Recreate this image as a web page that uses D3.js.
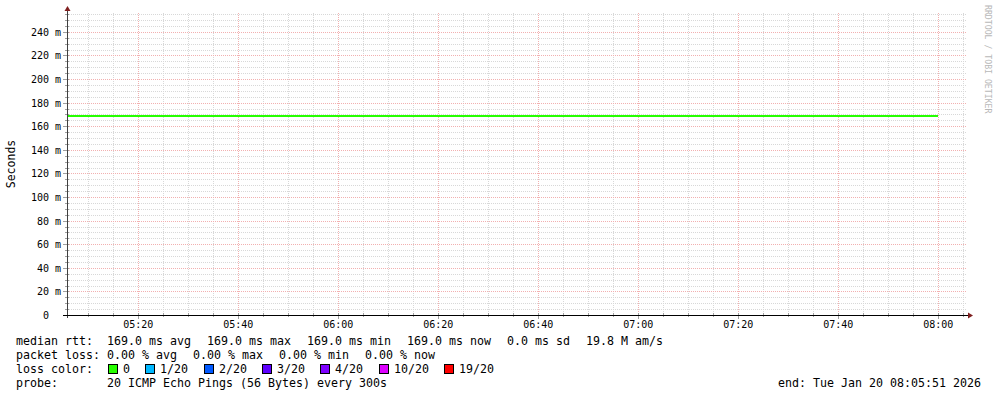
<!DOCTYPE html>
<html lang="en">
<head>
<meta charset="UTF-8">
<title>Smokeping median RTT</title>
<script src="https://d3js.org/d3.v7.min.js"></script>
<style>
    body { margin: 0; background: #fff; }
    text { font-family: "DejaVu Sans Mono", monospace; white-space: pre; }
</style>
</head>
<body>
<div id="chart"></div>
<script>
    const width = 997;
    const height = 397;

    // time window of the graph (UTC used so the browser zone does not matter)
    const startTime = new Date(Date.UTC(2026, 0, 20, 5, 5, 51));
    const endTime = new Date(Date.UTC(2026, 0, 20, 8, 5, 51));

    // 5 minute steps (end of each step), median rtt in seconds, lost pings
    const stepEnds = ["05:10", "05:15", "05:20", "05:25", "05:30", "05:35", "05:40", "05:45", "05:50", "05:55",
        "06:00", "06:05", "06:10", "06:15", "06:20", "06:25", "06:30", "06:35", "06:40", "06:45",
        "06:50", "06:55", "07:00", "07:05", "07:10", "07:15", "07:20", "07:25", "07:30", "07:35",
        "07:40", "07:45", "07:50", "07:55", "08:00"];
    const medianRtt = [0.169, 0.169, 0.169, 0.169, 0.169, 0.169, 0.169, 0.169, 0.169, 0.169,
        0.169, 0.169, 0.169, 0.169, 0.169, 0.169, 0.169, 0.169, 0.169, 0.169,
        0.169, 0.169, 0.169, 0.169, 0.169, 0.169, 0.169, 0.169, 0.169, 0.169,
        0.169, 0.169, 0.169, 0.169, 0.169];
    const lossCount = [0, 0, 0, 0, 0, 0, 0, 0, 0, 0, 0, 0, 0, 0, 0, 0, 0, 0, 0, 0,
        0, 0, 0, 0, 0, 0, 0, 0, 0, 0, 0, 0, 0, 0, 0];

    const yTicks = [0, 0.02, 0.04, 0.06, 0.08, 0.10, 0.12, 0.14, 0.16, 0.18, 0.20, 0.22, 0.24];
    const yTickLabels = ["0  ", "20 m", "40 m", "60 m", "80 m", "100 m", "120 m", "140 m",
        "160 m", "180 m", "200 m", "220 m", "240 m"];

    const lossLabels = ["0", "1/20", "2/20", "3/20", "4/20", "10/20", "19/20"];
    const lossLimits = [0, 1, 2, 3, 4, 10, 19];
    const lossColors = ["#26ff00", "#00b8ff", "#0059ff", "#5e00ff", "#7e00ff", "#dd00ff", "#ff0000"];

    const rttStats = ["169.0 ms avg", "169.0 ms max", "169.0 ms min", "169.0 ms now", "0.0 ms sd", "19.8 M am/s"];
    const lossStats = ["0.00 % avg", "0.00 % max", "0.00 % min", "0.00 % now"];

    const plot = { left: 67, right: 967, top: 13, bottom: 315 };

    const svg = d3.select("#chart")
        .append("svg")
        .attr("width", width)
        .attr("height", height);

    svg.append("rect").attr("width", width).attr("height", height).attr("fill", "#fff");

    const x = d3.scaleUtc().domain([startTime, endTime]).range([plot.left, plot.right]);
    const y = d3.scaleLinear().domain([0, 0.256]).range([plot.bottom, plot.top]);

    // grid
    const minorX = d3.utcMinute.every(5).range(startTime, endTime);
    const majorX = d3.utcMinute.every(20).range(startTime, endTime);
    const minorY = d3.range(0, 0.2561, 0.005);
    const minorColor = "#d8d8d8";
    const majorColor = "#f2b0b0";

    const grid = svg.append("g").attr("shape-rendering", "crispEdges");
    grid.selectAll(".vminor")
        .data(minorX.filter(d => d.getUTCMinutes() % 20 !== 0))
        .join("line")
        .attr("x1", d => Math.round(x(d)) + 0.5).attr("x2", d => Math.round(x(d)) + 0.5)
        .attr("y1", plot.top).attr("y2", plot.bottom)
        .attr("stroke", minorColor).attr("stroke-dasharray", "1,1");
    grid.selectAll(".hminor")
        .data(minorY.filter((d, i) => i % 4 !== 0))
        .join("line")
        .attr("x1", plot.left).attr("x2", plot.right)
        .attr("y1", d => Math.round(y(d)) + 0.5).attr("y2", d => Math.round(y(d)) + 0.5)
        .attr("stroke", minorColor).attr("stroke-dasharray", "1,1");
    grid.selectAll(".vmajor")
        .data(majorX)
        .join("line")
        .attr("x1", d => Math.round(x(d)) + 0.5).attr("x2", d => Math.round(x(d)) + 0.5)
        .attr("y1", plot.top).attr("y2", plot.bottom)
        .attr("stroke", majorColor).attr("stroke-dasharray", "1,1");
    grid.selectAll(".hmajor")
        .data(yTicks.slice(1))
        .join("line")
        .attr("x1", plot.left).attr("x2", plot.right)
        .attr("y1", d => Math.round(y(d)) + 0.5).attr("y2", d => Math.round(y(d)) + 0.5)
        .attr("stroke", majorColor).attr("stroke-dasharray", "1,1");

    // small ticks on the axes
    grid.selectAll(".xtick")
        .data(minorX)
        .join("line")
        .attr("x1", d => Math.round(x(d)) + 0.5).attr("x2", d => Math.round(x(d)) + 0.5)
        .attr("y1", plot.bottom - 2).attr("y2", d => plot.bottom + (d.getUTCMinutes() % 20 === 0 ? 4 : 2))
        .attr("stroke", "#a0a0a0");
    grid.selectAll(".ytick")
        .data(minorY)
        .join("line")
        .attr("x1", (d, i) => plot.left - (i % 4 === 0 ? 4 : 2)).attr("x2", plot.left + 2)
        .attr("y1", d => Math.round(y(d)) + 0.5).attr("y2", d => Math.round(y(d)) + 0.5)
        .attr("stroke", "#a0a0a0");

    // median rtt line, coloured by loss
    const parseStep = d3.utcParse("%Y-%m-%d %H:%M");
    const steps = stepEnds.map((t, i) => {
        const end = parseStep("2026-01-20 " + t);
        const begin = new Date(Math.max(+startTime, +end - 300000));
        const lossIdx = d3.bisectRight(lossLimits, lossCount[i]) - 1;
        return { begin, end, value: medianRtt[i], color: lossColors[lossIdx] };
    });
    svg.append("g")
        .attr("shape-rendering", "crispEdges")
        .selectAll("line")
        .data(steps)
        .join("line")
        .attr("x1", d => x(d.begin)).attr("x2", d => x(d.end))
        .attr("y1", d => Math.round(y(d.value))).attr("y2", d => Math.round(y(d.value)))
        .attr("stroke", d => d.color)
        .attr("stroke-width", 2);

    // axes with arrows
    const axes = svg.append("g").attr("shape-rendering", "crispEdges");
    axes.append("line")
        .attr("x1", plot.left + 0.5).attr("x2", plot.left + 0.5)
        .attr("y1", plot.bottom + 3).attr("y2", plot.top - 3)
        .attr("stroke", "#404040");
    axes.append("line")
        .attr("x1", plot.left - 4).attr("x2", plot.right + 2)
        .attr("y1", plot.bottom + 0.5).attr("y2", plot.bottom + 0.5)
        .attr("stroke", "#000");
    svg.append("path")
        .attr("d", `M${plot.left - 2.5},${plot.top - 2} L${plot.left + 3.5},${plot.top - 2} L${plot.left + 0.5},${plot.top - 7} Z`)
        .attr("fill", "#7f1f1f");
    svg.append("path")
        .attr("d", `M${plot.right + 1},${plot.bottom - 2.5} L${plot.right + 1},${plot.bottom + 3.5} L${plot.right + 6},${plot.bottom + 0.5} Z`)
        .attr("fill", "#7f1f1f");

    // tick labels
    svg.append("g")
        .selectAll("text")
        .data(yTicks)
        .join("text")
        .attr("x", 61)
        .attr("y", d => Math.round(y(d)) + 4)
        .attr("text-anchor", "end")
        .attr("font-size", "10px")
        .attr("fill", "#000")
        .text((d, i) => yTickLabels[i]);

    const fmt = d3.utcFormat("%H:%M");
    svg.append("g")
        .selectAll("text")
        .data(majorX)
        .join("text")
        .attr("x", d => x(d) + 0.5)
        .attr("y", 328)
        .attr("text-anchor", "middle")
        .attr("font-size", "10px")
        .attr("fill", "#000")
        .text(d => fmt(d));

    // axis title and watermark
    svg.append("text")
        .attr("transform", "translate(15,164) rotate(-90)")
        .attr("text-anchor", "middle")
        .attr("font-size", "11.5px")
        .attr("fill", "#000")
        .text("Seconds");
    svg.append("text")
        .attr("transform", "translate(985,5) rotate(90)")
        .attr("font-size", "8.2px")
        .attr("fill", "#b8b8b8")
        .text("RRDTOOL / TOBI OETIKER");

    // legend
    const legend = svg.append("g").attr("font-size", "11.63px").attr("fill", "#000");
    const cw = 7;
    legend.append("text").attr("x", 16).attr("y", 345).text("median rtt:");
    legend.selectAll(".rtt")
        .data(rttStats)
        .join("text")
        .attr("x", (d, i) => 107 + d3.sum(rttStats.slice(0, i), s => s.length * cw + 16))
        .attr("y", 345)
        .text(d => d);
    legend.append("text").attr("x", 16).attr("y", 359).text("packet loss:");
    legend.selectAll(".loss")
        .data(lossStats)
        .join("text")
        .attr("x", (d, i) => 107 + d3.sum(lossStats.slice(0, i), s => s.length * cw + 16))
        .attr("y", 359)
        .text(d => d);
    legend.append("text").attr("x", 16).attr("y", 373).text("loss color:");
    const boxX = lossLabels.map((l, i) => 108 + d3.sum(lossLabels.slice(0, i), s => 15 + s.length * cw + 15.3));
    legend.selectAll(".box")
        .data(lossLabels)
        .join("rect")
        .attr("x", (d, i) => Math.round(boxX[i]) + 0.5)
        .attr("y", 364.5)
        .attr("width", 9).attr("height", 9)
        .attr("fill", (d, i) => lossColors[i])
        .attr("stroke", "#000");
    legend.selectAll(".boxlabel")
        .data(lossLabels)
        .join("text")
        .attr("x", (d, i) => Math.round(boxX[i]) + 15)
        .attr("y", 373)
        .text(d => d);
    legend.append("text").attr("x", 16).attr("y", 387).text("probe:");
    legend.append("text").attr("x", 107).attr("y", 387).text("20 ICMP Echo Pings (56 Bytes) every 300s");
    legend.append("text").attr("x", 981).attr("y", 387).attr("text-anchor", "end")
        .text("end: Tue Jan 20 08:05:51 2026");
</script>
</body>
</html>
